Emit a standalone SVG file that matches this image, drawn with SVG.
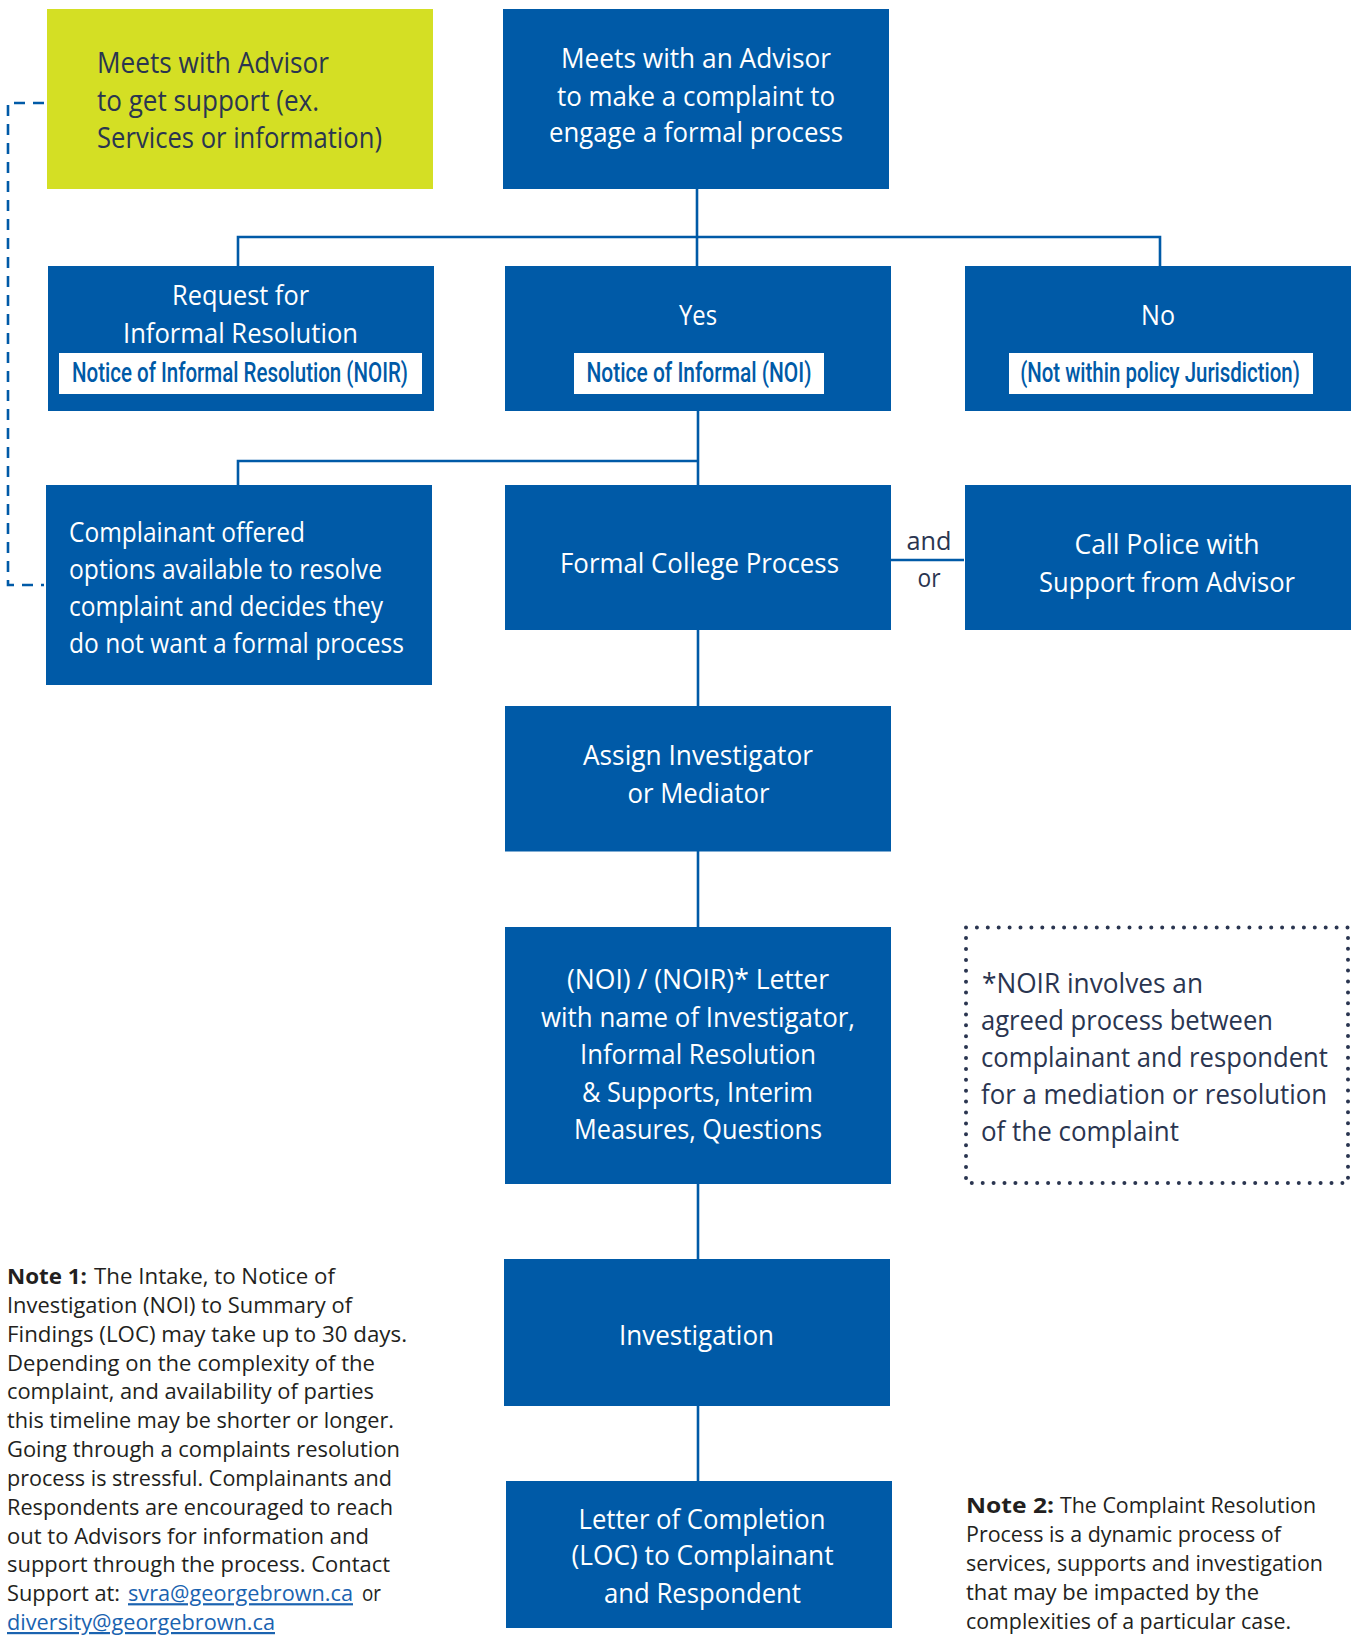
<svg xmlns="http://www.w3.org/2000/svg" width="1355" height="1638" viewBox="0 0 1355 1638">
<style>
.box{fill:#005aa7}
.ybox{fill:#d4df24}
.wt{fill:#ffffff;font-family:'Open Sans','Liberation Sans',sans-serif;font-size:28px}
.dk{fill:#2a3550;font-family:'Open Sans','Liberation Sans',sans-serif;font-size:28px}
.lblbg{fill:#ffffff}
.lt{fill:#005aa7;font-family:Roboto,'Liberation Sans',sans-serif;font-weight:500;font-size:28px}
.conn{stroke:#005aa7;stroke-width:2.6;fill:none}
.dash{stroke:#005aa7;stroke-width:2.6;fill:none;stroke-dasharray:11 8}
.dots{stroke:#2a3550;stroke-width:4;fill:none;stroke-dasharray:0 10.9;stroke-linecap:round}
.note{fill:#231f20;font-family:'Open Sans','Liberation Sans',sans-serif;font-size:22px}
.b{font-weight:bold}
.link{fill:#1b63b0;text-decoration:underline}
</style>
<rect width="1355" height="1638" fill="#ffffff"/>

<g id="connectors">
  <path class="conn" d="M697 189 V266"/>
  <path class="conn" d="M238 266 V237 H1160 V266"/>
  <path class="conn" d="M698 410 V485"/>
  <path class="conn" d="M238 485 V461 H698"/>
  <path class="conn" d="M890 560 H964"/>
  <path class="conn" d="M698 630 V706"/>
  <path class="conn" d="M698 851 V927"/>
  <path class="conn" d="M698 1184 V1259"/>
  <path class="conn" d="M698 1406 V1481"/>
  <path class="dash" d="M44 103 H8 V585 H44"/>
  <text class="dk" x="929" y="550" text-anchor="middle" textLength="45" lengthAdjust="spacingAndGlyphs" style="font-size:26px">and</text>
  <text class="dk" x="929" y="587" text-anchor="middle" textLength="23" lengthAdjust="spacingAndGlyphs" style="font-size:26px">or</text>
</g>

<g id="node-support">
  <rect class="ybox" x="47" y="9" width="386" height="180"/>
  <text class="dk" x="97" y="73" textLength="232" lengthAdjust="spacingAndGlyphs" style="font-size:29px">Meets with Advisor</text>
  <text class="dk" x="97" y="110.5" textLength="222" lengthAdjust="spacingAndGlyphs" style="font-size:29px">to get support (ex.</text>
  <text class="dk" x="97" y="148" textLength="285" lengthAdjust="spacingAndGlyphs" style="font-size:29px">Services or information)</text>
</g>

<g id="node-complaint">
  <rect class="box" x="503" y="9" width="386" height="180"/>
  <text class="wt" x="696" y="68" text-anchor="middle" textLength="270" lengthAdjust="spacingAndGlyphs">Meets with an Advisor</text>
  <text class="wt" x="696" y="105.5" text-anchor="middle" textLength="278" lengthAdjust="spacingAndGlyphs">to make a complaint to</text>
  <text class="wt" x="696" y="142" text-anchor="middle" textLength="294" lengthAdjust="spacingAndGlyphs">engage a formal process</text>
</g>

<g id="node-informal">
  <rect class="box" x="48" y="266" width="386" height="145"/>
  <text class="wt" x="240.5" y="305" text-anchor="middle" textLength="137" lengthAdjust="spacingAndGlyphs">Request for</text>
  <text class="wt" x="240.5" y="343" text-anchor="middle" textLength="235" lengthAdjust="spacingAndGlyphs">Informal Resolution</text>
  <rect class="lblbg" x="59" y="353" width="363" height="41"/>
  <text class="lt" transform="translate(240 382) scale(0.75 1)" x="0" y="0" text-anchor="middle" textLength="448" lengthAdjust="spacingAndGlyphs">Notice of Informal Resolution (NOIR)</text>
</g>

<g id="node-yes">
  <rect class="box" x="505" y="266" width="386" height="145"/>
  <text class="wt" x="698" y="325" text-anchor="middle" textLength="38" lengthAdjust="spacingAndGlyphs">Yes</text>
  <rect class="lblbg" x="574" y="353" width="250" height="41"/>
  <text class="lt" transform="translate(699 382) scale(0.75 1)" x="0" y="0" text-anchor="middle" textLength="300" lengthAdjust="spacingAndGlyphs">Notice of Informal (NOI)</text>
</g>

<g id="node-no">
  <rect class="box" x="965" y="266" width="386" height="145"/>
  <text class="wt" x="1158" y="325" text-anchor="middle" textLength="34" lengthAdjust="spacingAndGlyphs">No</text>
  <rect class="lblbg" x="1009" y="353" width="304" height="41"/>
  <text class="lt" transform="translate(1160 382) scale(0.75 1)" x="0" y="0" text-anchor="middle" textLength="373" lengthAdjust="spacingAndGlyphs">(Not within policy Jurisdiction)</text>
</g>

<g id="node-options">
  <rect class="box" x="46" y="485" width="386" height="200"/>
  <text class="wt" x="69" y="541.5" textLength="236" lengthAdjust="spacingAndGlyphs">Complainant offered</text>
  <text class="wt" x="69" y="578.5" textLength="313" lengthAdjust="spacingAndGlyphs">options available to resolve</text>
  <text class="wt" x="69" y="615.5" textLength="314" lengthAdjust="spacingAndGlyphs">complaint and decides they</text>
  <text class="wt" x="69" y="653" textLength="335" lengthAdjust="spacingAndGlyphs">do not want a formal process</text>
</g>

<g id="node-formal">
  <rect class="box" x="505" y="485" width="386" height="145"/>
  <text class="wt" x="699.5" y="573" text-anchor="middle" textLength="279" lengthAdjust="spacingAndGlyphs">Formal College Process</text>
</g>

<g id="node-police">
  <rect class="box" x="965" y="485" width="386" height="145"/>
  <text class="wt" x="1167" y="554" text-anchor="middle" textLength="185" lengthAdjust="spacingAndGlyphs">Call Police with</text>
  <text class="wt" x="1167" y="592" text-anchor="middle" textLength="256" lengthAdjust="spacingAndGlyphs">Support from Advisor</text>
</g>

<g id="node-assign">
  <rect class="box" x="505" y="706" width="386" height="145.5"/>
  <text class="wt" x="698" y="765" text-anchor="middle" textLength="230" lengthAdjust="spacingAndGlyphs">Assign Investigator</text>
  <text class="wt" x="698.5" y="803" text-anchor="middle" textLength="142" lengthAdjust="spacingAndGlyphs">or Mediator</text>
</g>

<g id="node-letter">
  <rect class="box" x="505" y="927" width="386" height="257"/>
  <text class="wt" x="698" y="988.5" text-anchor="middle" textLength="262" lengthAdjust="spacingAndGlyphs">(NOI) / (NOIR)* Letter</text>
  <text class="wt" x="698" y="1026.5" text-anchor="middle" textLength="314" lengthAdjust="spacingAndGlyphs">with name of Investigator,</text>
  <text class="wt" x="698" y="1064" text-anchor="middle" textLength="236" lengthAdjust="spacingAndGlyphs">Informal Resolution</text>
  <text class="wt" x="697.5" y="1101.5" text-anchor="middle" textLength="231" lengthAdjust="spacingAndGlyphs">&amp; Supports, Interim</text>
  <text class="wt" x="698" y="1138.5" text-anchor="middle" textLength="248" lengthAdjust="spacingAndGlyphs">Measures, Questions</text>
</g>

<g id="node-noir-note">
  <rect class="dots" x="966" y="927.5" width="382" height="255.5"/>
  <text class="dk" x="982" y="993" textLength="221" lengthAdjust="spacingAndGlyphs" style="font-size:27px">*NOIR involves an</text>
  <text class="dk" x="981" y="1030" textLength="292" lengthAdjust="spacingAndGlyphs" style="font-size:27px">agreed process between</text>
  <text class="dk" x="981" y="1067" textLength="347" lengthAdjust="spacingAndGlyphs" style="font-size:27px">complainant and respondent</text>
  <text class="dk" x="981" y="1104" textLength="346" lengthAdjust="spacingAndGlyphs" style="font-size:27px">for a mediation or resolution</text>
  <text class="dk" x="981" y="1141" textLength="198" lengthAdjust="spacingAndGlyphs" style="font-size:27px">of the complaint</text>
</g>

<g id="node-investigation">
  <rect class="box" x="504" y="1259" width="386" height="147"/>
  <text class="wt" x="696.5" y="1345" text-anchor="middle" textLength="155" lengthAdjust="spacingAndGlyphs">Investigation</text>
</g>

<g id="node-completion">
  <rect class="box" x="506" y="1481" width="386" height="147"/>
  <text class="wt" x="702" y="1528.5" text-anchor="middle" textLength="247" lengthAdjust="spacingAndGlyphs">Letter of Completion</text>
  <text class="wt" x="702.5" y="1565" text-anchor="middle" textLength="262" lengthAdjust="spacingAndGlyphs">(LOC) to Complainant</text>
  <text class="wt" x="702.5" y="1603" text-anchor="middle" textLength="197" lengthAdjust="spacingAndGlyphs">and Respondent</text>
</g>

<g id="note-1">
  <text class="note b" x="7" y="1284" textLength="80" lengthAdjust="spacingAndGlyphs">Note 1:</text>
  <text class="note" x="94" y="1284" textLength="241" lengthAdjust="spacingAndGlyphs">The Intake, to Notice of</text>
  <text class="note" x="7" y="1312.8" textLength="345" lengthAdjust="spacingAndGlyphs">Investigation (NOI) to Summary of</text>
  <text class="note" x="7" y="1341.7" textLength="400" lengthAdjust="spacingAndGlyphs">Findings (LOC) may take up to 30 days.</text>
  <text class="note" x="7" y="1370.5" textLength="368" lengthAdjust="spacingAndGlyphs">Depending on the complexity of the</text>
  <text class="note" x="7" y="1399.3" textLength="367" lengthAdjust="spacingAndGlyphs">complaint, and availability of parties</text>
  <text class="note" x="7" y="1428.2" textLength="387" lengthAdjust="spacingAndGlyphs">this timeline may be shorter or longer.</text>
  <text class="note" x="7" y="1457" textLength="393" lengthAdjust="spacingAndGlyphs">Going through a complaints resolution</text>
  <text class="note" x="7" y="1485.8" textLength="385" lengthAdjust="spacingAndGlyphs">process is stressful. Complainants and</text>
  <text class="note" x="7" y="1514.7" textLength="386" lengthAdjust="spacingAndGlyphs">Respondents are encouraged to reach</text>
  <text class="note" x="7" y="1543.5" textLength="362" lengthAdjust="spacingAndGlyphs">out to Advisors for information and</text>
  <text class="note" x="7" y="1572.3" textLength="383" lengthAdjust="spacingAndGlyphs">support through the process. Contact</text>
  <text class="note" x="7" y="1601.2" textLength="113" lengthAdjust="spacingAndGlyphs">Support at:</text>
  <text class="note link" x="128" y="1601.2" textLength="225" lengthAdjust="spacingAndGlyphs">svra@georgebrown.ca</text>
  <text class="note" x="362" y="1601.2" textLength="19" lengthAdjust="spacingAndGlyphs">or</text>
  <text class="note link" x="7" y="1630" textLength="268" lengthAdjust="spacingAndGlyphs">diversity@georgebrown.ca</text>
</g>

<g id="note-2">
  <text class="note b" x="966" y="1513.3" textLength="88" lengthAdjust="spacingAndGlyphs">Note 2:</text>
  <text class="note" x="1060" y="1513.3" textLength="256" lengthAdjust="spacingAndGlyphs">The Complaint Resolution</text>
  <text class="note" x="966" y="1542.1" textLength="315" lengthAdjust="spacingAndGlyphs">Process is a dynamic process of</text>
  <text class="note" x="966" y="1570.9" textLength="357" lengthAdjust="spacingAndGlyphs">services, supports and investigation</text>
  <text class="note" x="966" y="1599.7" textLength="293" lengthAdjust="spacingAndGlyphs">that may be impacted by the</text>
  <text class="note" x="966" y="1628.5" textLength="325" lengthAdjust="spacingAndGlyphs">complexities of a particular case.</text>
</g>
</svg>
